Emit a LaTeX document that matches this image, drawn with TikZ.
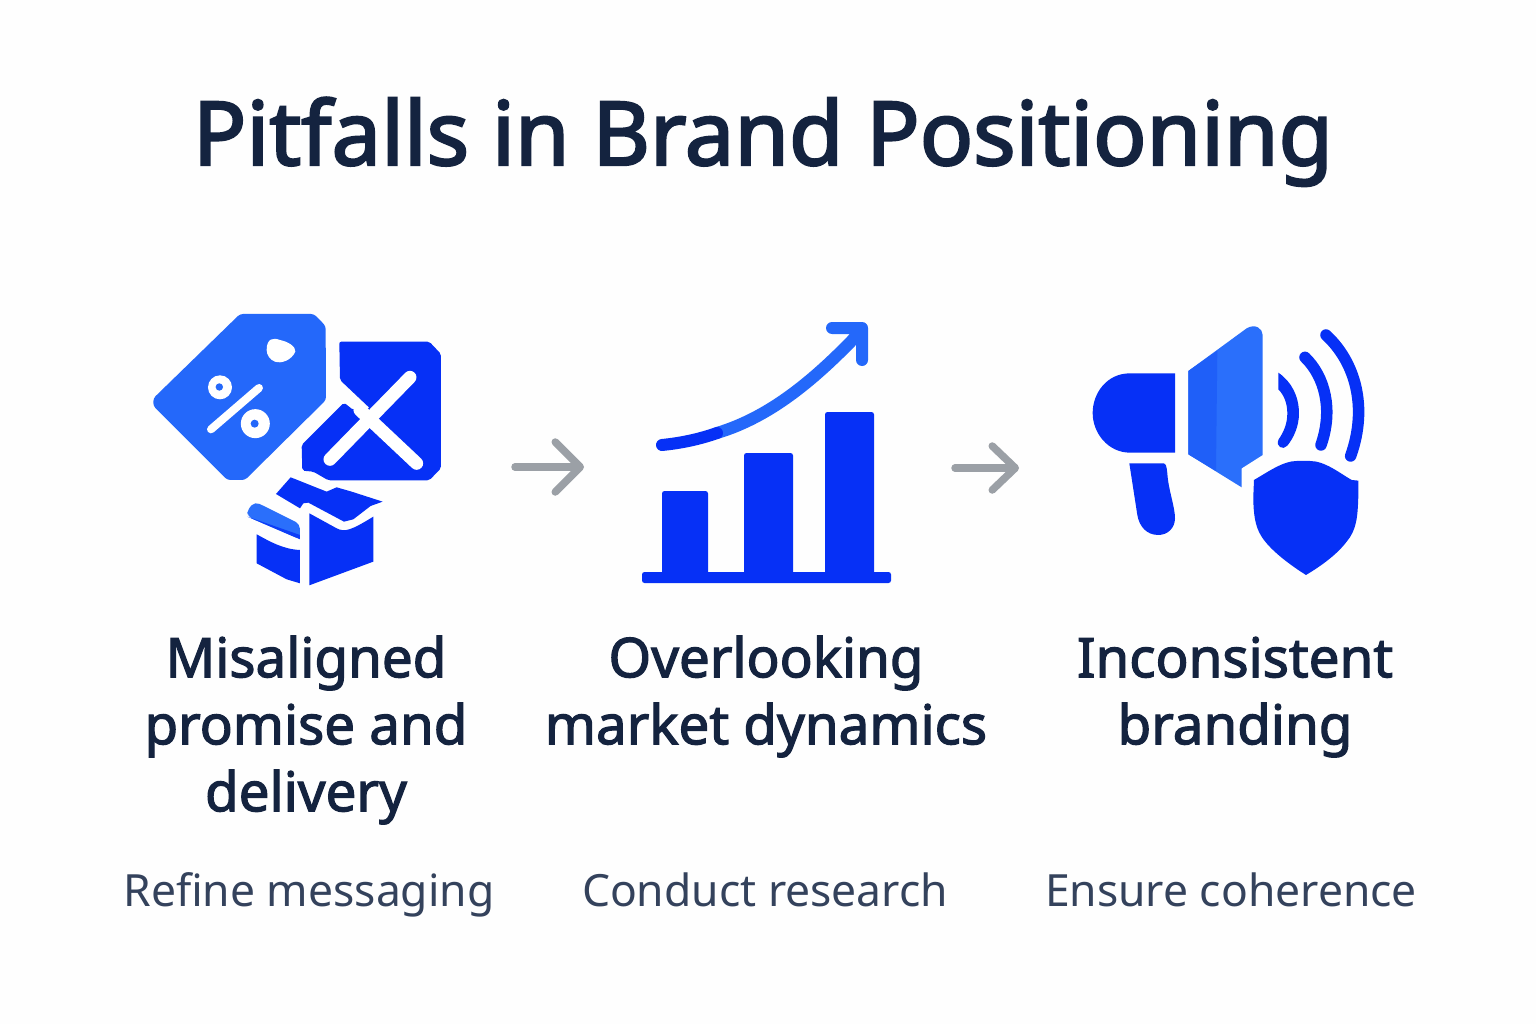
\documentclass[tikz,border=0pt]{standalone}
\usepackage{fontspec}
\usetikzlibrary{arrows.meta}
\setmainfont{Noto Sans}
\newfontfamily\ttlfont[FakeBold=2.6]{Noto Sans}
\newfontfamily\lblfont[FakeBold=2.2]{Noto Sans}
\definecolor{inkA}{HTML}{14233F}
\definecolor{inkB}{HTML}{34425C}
\definecolor{blueD}{HTML}{0630F6}
\definecolor{blueM}{HTML}{1F5FF8}
\definecolor{blueL}{HTML}{2A6FFB}
\definecolor{tagB}{HTML}{2468FA}
\definecolor{arrowG}{HTML}{9BA0A6}
\newcommand{\lblstrut}{\rule{0pt}{50pt}}
\tikzset{
  titletext/.style={anchor=base,inner sep=0pt,text=inkA,font=\ttlfont\fontsize{88.4}{88}\selectfont},
  labeltext/.style={anchor=north,inner sep=0pt,align=center,text=inkA,font=\lblfont\fontsize{54.7}{67}\selectfont},
  subtext/.style={anchor=base,inner sep=0pt,text=inkB,font=\fontsize{44.4}{50}\selectfont},
  flowA/.style={draw=arrowG,line width=7.5pt,line cap=round,-{Straight Barb[length=25pt,width=50pt,line width=7.5pt,round]}},
  flowB/.style={draw=arrowG,line width=7.5pt,line cap=round,-{Straight Barb[length=23pt,width=44pt,line width=7.5pt,round]}},
  zoomA/.style={shift={(140,300)},x=0.3333pt,y=-0.3333pt},
  zoomC/.style={shift={(1080,310)},x=0.3333pt,y=-0.3333pt},
  whitestroke/.style={draw=white,line cap=round},
  wavestroke/.style={draw=blueD,line cap=round,line width=11.5pt},
}
\begin{document}
\begin{tikzpicture}[x=1pt,y=-1pt]
\useasboundingbox (0,0) rectangle (1536,1024);
\fill[white!99.5!black] (0,0) rectangle (1536,1024);
% title
\node[titletext] (title) at (763,165) {Pitfalls in Brand Positioning};
% icon 1: tag, cross, box
\begin{scope}[zoomA]
  \fill[tagB,rounded corners=3pt] (300,42) -- (522,42) -- (557,78) -- (558,300) -- (315,540) -- (262,540) -- (40,318) -- (40,295) -- cycle;
  \fill[white] (380,150) .. controls (380,115) and (400,112) .. (420,120) .. controls (445,125) and (468,140) .. (466,155) .. controls (455,180) and (425,192) .. (405,185) .. controls (390,180) and (380,165) .. (380,150) -- cycle;
  \fill[white] (240,262) circle[radius=12pt];
  \fill[tagB] (238,261) circle[radius=3.7pt];
  \fill[white] (346,371) circle[radius=14.5pt];
  \fill[tagB] (344,371) circle[radius=4pt];
  \draw[whitestroke,line width=8pt] (213,388) -- (357,264);
  \fill[blueD,rounded corners=2pt] (598,125) -- (868,125) -- (903,162) -- (903,505) -- (868,541) -- (565,541) -- (520,515) -- (487,512) -- (485,435) -- (612,308) -- (640,330) -- (690,325) -- (600,240) -- cycle;
  \draw[whitestroke,line width=13pt] (570,478) -- (810,232);
  \draw[whitestroke,line width=13pt] (660,330) -- (830,490);
  \fill[blueD] (452,532) -- (560,575) -- (590,562) -- (635,575) -- (728,605) -- (692,618) -- (640,658) -- (612,665) -- (505,608) -- (490,610) -- (480,625) -- (408,582) -- cycle;
  \fill[blueL,rounded corners=5pt] (345,605) -- (480,672) -- (480,718) -- (322,650) -- (322,630) -- cycle;
  \fill[blueD!80!blueL] (322,650) -- (480,705) -- (480,718) -- cycle;
  \fill[blueD] (350,703) .. controls (390,725) and (430,748) .. (480,750) -- (480,850) -- (440,838) -- (350,790) -- cycle;
  \fill[blueD] (508,640) -- (590,685) .. controls (615,698) and (635,690) .. (700,650) -- (700,785) -- (508,856) -- cycle;
\end{scope}
% icon 2: chart
\fill[blueD,rounded corners=2.5pt] (642,572) rectangle (891,583);
\fill[blueD,rounded corners=2.5pt] (662,491) rectangle (708,578);
\fill[blueD,rounded corners=2.5pt] (744,453) rectangle (793,578);
\fill[blueD,rounded corners=2.5pt] (825,412) rectangle (874,578);
\draw[tagB,line width=12pt,line cap=round,line join=round] (717,433) .. controls (770,417) and (815,380) .. (862,330) (832,328) -- (862,328) -- (862,360);
\draw[blueD,line width=12pt,line cap=round] (662,445) .. controls (682,443) and (700,439) .. (717,433);
% icon 3: megaphone and shield
\begin{scope}[zoomC]
  \fill[blueD] (285,190) -- (150,190) .. controls (80,190) and (38,250) .. (38,309) .. controls (38,370) and (85,428) .. (150,428) -- (285,428) -- cycle;
  \fill[blueD] (148,460) -- (250,460) .. controls (258,460) and (260,470) .. (262,490) .. controls (265,540) and (285,590) .. (285,625) .. controls (285,655) and (262,675) .. (235,675) .. controls (200,675) and (178,650) .. (172,615) -- cycle;
  \fill[blueL] (325,183) -- (500,55) .. controls (525,40) and (548,55) .. (548,75) -- (548,435) -- (485,475) -- (485,532) -- (325,433) -- cycle;
  \fill[blueM] (325,183) -- (412,122) -- (408,483) -- (325,433) -- cycle;
  \fill[blueD] (595,188) .. controls (635,215) and (657,260) .. (657,310) .. controls (657,350) and (640,385) .. (622,407) .. controls (610,422) and (585,410) .. (596,388) .. controls (612,365) and (622,340) .. (622,310) .. controls (622,280) and (612,255) .. (595,238) -- cycle;
  \draw[wavestroke] (675,142) .. controls (735,200) and (760,300) .. (723,405);
  \draw[wavestroke] (738,75) .. controls (825,155) and (865,290) .. (812,438);
  \fill[blueD] (522,510) .. controls (565,485) and (610,453) .. (650,453) -- (690,453) .. controls (735,453) and (780,490) .. (815,510) -- (835,512) -- (835,560) .. controls (833,620) and (830,660) .. (800,695) .. controls (770,735) and (720,770) .. (678,795) .. controls (630,765) and (570,720) .. (545,680) .. controls (525,650) and (520,610) .. (520,560) -- cycle;
\end{scope}
% connectors
\coordinate (flowAs) at (515,467);
\coordinate (flowAe) at (584,467);
\coordinate (flowBs) at (955,468);
\coordinate (flowBe) at (1019,468);
\draw[flowA] (flowAs) -- (flowAe);
\draw[flowB] (flowBs) -- (flowBe);
% labels
\node[labeltext] (lblA) at (306,627) {\lblstrut Misaligned\\promise and\\delivery};
\node[labeltext] (lblB) at (766,627) {\lblstrut Overlooking\\market dynamics};
\node[labeltext] (lblC) at (1235,627) {\lblstrut Inconsistent\\branding};
\node[subtext] (subA) at (309,906) {Refine messaging};
\node[subtext] (subB) at (765,906) {Conduct research};
\node[subtext] (subC) at (1231,906) {Ensure coherence};
\end{tikzpicture}
\end{document}
